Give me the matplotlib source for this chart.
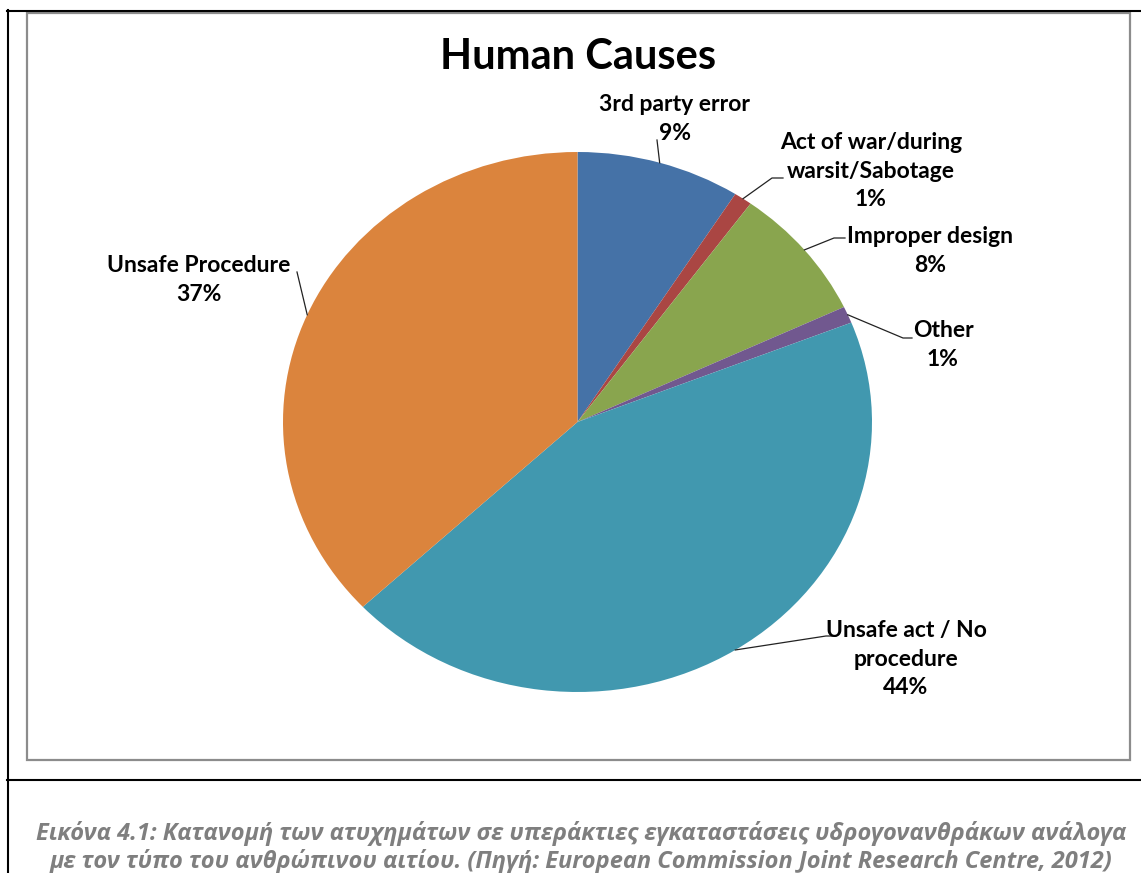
import matplotlib.pyplot as plt
from matplotlib.lines import Line2D
from matplotlib.patches import Rectangle
import numpy as np

# Human causes of offshore accidents, share in percent
causes = ['3rd party error', 'Act of war/during\nwarsit/Sabotage', 'Improper design',
          'Other', 'Unsafe act / No\nprocedure', 'Unsafe Procedure']
shares = [9, 1, 8, 1, 44, 37]
colors = ['#4572A7', '#AA4643', '#89A54E', '#71588F', '#4198AF', '#DB843D']

title = 'Human Causes'
caption = ['Εικόνα 4.1: Κατανομή των ατυχημάτων σε υπεράκτιες εγκαταστάσεις υδρογονανθράκων ανάλογα',
           'με τον τύπο του ανθρώπινου αιτίου. (Πηγή: European Commission Joint Research Centre, 2012)']

W, H = 1141, 873

# label centres and leader line points, pixels measured from the top-left corner
label_pos = [(675, 119), (871, 171), (930, 251), (943, 345), (906, 659), (199, 280)]
leader_pts = [[(657, 140)],
              [(772, 178), (783, 178)],
              [(834, 238), (845, 238)],
              [(903, 338), (912, 338)],
              [(826, 636), (836, 636)],
              [(297, 272)]]


def fig_xy(x, y):
    return x / W, 1 - y / H


fig = plt.figure(figsize=(W / 100, H / 100), dpi=100)

# page frame lines and chart border
lw = 1.5
fig.add_artist(Line2D([7 / W, 1], [1 - 10.5 / H] * 2, color='black', lw=lw, transform=fig.transFigure))
fig.add_artist(Line2D([8 / W] * 2, [1 - 10 / H, 0], color='black', lw=lw, transform=fig.transFigure))
fig.add_artist(Line2D([7 / W, 1], [1 - 780 / H] * 2, color='black', lw=lw, transform=fig.transFigure))
fig.add_artist(Rectangle(fig_xy(27, 760), (1130 - 27) / W, (760 - 13) / H, fill=False,
                         edgecolor='#8c8c8c', lw=1.6, transform=fig.transFigure))

ax = fig.add_axes([283 / W, 1 - 692 / H, 589 / W, 540 / H])
wedges, _ = ax.pie(shares, colors=colors, startangle=90, counterclock=False,
                   wedgeprops=dict(linewidth=0))
ax.set_aspect('auto')
ax.set_xlim(-1, 1)
ax.set_ylim(-1, 1)
ax.axis('off')

to_fig = ax.transData + fig.transFigure.inverted()
for w, name, v, pos, pts in zip(wedges, causes, shares, label_pos, leader_pts):
    mid = np.deg2rad((w.theta1 + w.theta2) / 2)
    start = to_fig.transform((np.cos(mid), np.sin(mid)))
    xs = [start[0]] + [fig_xy(*p)[0] for p in pts]
    ys = [start[1]] + [fig_xy(*p)[1] for p in pts]
    fig.add_artist(Line2D(xs, ys, color='#222222', lw=0.9, transform=fig.transFigure))
    fig.text(*fig_xy(*pos), f'{name}\n{v}%', ha='center', va='center', fontsize=16.5,
             fontweight='bold', family='Lato', linespacing=1.42)

fig.text(*fig_xy(578, 57), title, ha='center', va='center', fontsize=30,
         fontweight='bold', family='Lato')

for i, line in enumerate(caption):
    fig.text(*fig_xy(581, 833 + 29 * i), line, ha='center', va='center', fontsize=17,
             style='italic', fontweight='bold', family='Open Sans', color='#7f7f7f')

fig.savefig('out.png', dpi=100)
